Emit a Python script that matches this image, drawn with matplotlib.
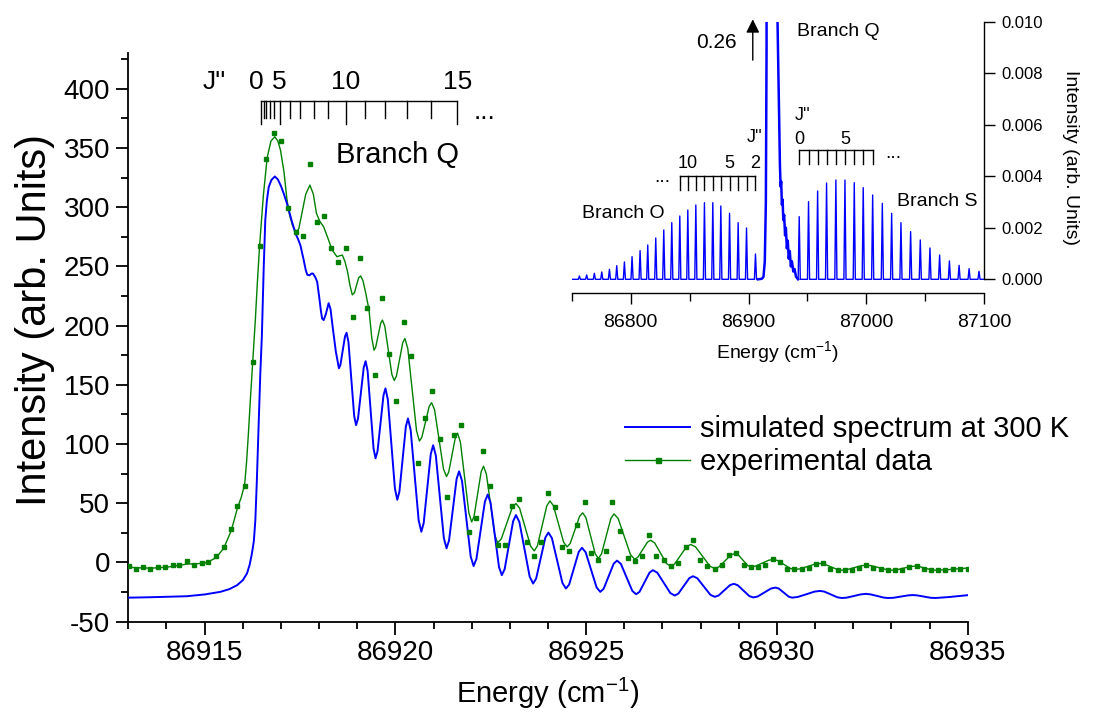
import numpy as np
import matplotlib
matplotlib.use('Agg')
import matplotlib.pyplot as plt
from matplotlib.lines import Line2D
from matplotlib.ticker import MultipleLocator, FormatStrFormatter
import matplotlib.transforms as mtransforms

plt.rcParams['font.family'] = ['Liberation Sans', 'DejaVu Sans']
plt.rcParams['axes.unicode_minus'] = False
plt.rcParams['mathtext.fontset'] = 'custom'
plt.rcParams['mathtext.rm'] = 'Liberation Sans'
plt.rcParams['mathtext.it'] = 'Liberation Sans'
plt.rcParams['mathtext.default'] = 'regular'

# ---------------- main panel data ----------------
sim_x = [86913.0, 86913.5, 86914.0, 86914.53, 86915.0, 86915.41, 86915.65, 86915.85, 86916.0, 86916.11,
         86916.18, 86916.24, 86916.29, 86916.33, 86916.37, 86916.42, 86916.46, 86916.50, 86916.55, 86916.59,
         86916.63, 86916.68, 86916.75, 86916.84, 86916.92, 86917.0, 86917.08, 86917.16, 86917.27, 86917.38,
         86917.45, 86917.51, 86917.56, 86917.6, 86917.65, 86917.69, 86917.75, 86917.80, 86917.84, 86917.9,
         86917.95, 86918.0, 86918.05, 86918.08, 86918.12, 86918.18, 86918.25, 86918.3, 86918.36, 86918.44,
         86918.52, 86918.56, 86918.62, 86918.68, 86918.72, 86918.77, 86918.845, 86918.92, 86918.97, 86919.02,
         86919.095, 86919.17, 86919.22, 86919.272, 86919.35, 86919.428, 86919.48, 86919.532, 86919.61, 86919.688,
         86919.74, 86919.802, 86919.895, 86919.988, 86920.05, 86920.106, 86920.19, 86920.274, 86920.33, 86920.40,
         86920.505, 86920.61, 86920.68, 86920.742, 86920.835, 86920.928, 86920.99, 86921.06, 86921.165, 86921.27,
         86921.34, 86921.406, 86921.505, 86921.604, 86921.67, 86921.746, 86921.86, 86921.974, 86922.05, 86922.124,
         86922.235, 86922.346, 86922.42, 86922.494, 86922.605, 86922.716, 86922.79, 86922.864, 86922.975, 86923.086,
         86923.16, 86923.25, 86923.385, 86923.52, 86923.61, 86923.69, 86923.81, 86923.93, 86924.01, 86924.102,
         86924.24, 86924.378, 86924.47, 86924.554, 86924.68, 86924.806, 86924.89, 86924.986, 86925.13, 86925.274,
         86925.37, 86925.458, 86925.59, 86925.722, 86925.81, 86925.91, 86926.06, 86926.21, 86926.31, 86926.398,
         86926.53, 86926.662, 86926.75, 86926.864, 86927.035, 86927.206, 86927.32, 86927.416, 86927.56, 86927.704,
         86927.80, 86927.914, 86928.085, 86928.256, 86928.37, 86928.47, 86928.62, 86928.77, 86928.87, 86928.972,
         86929.125, 86929.278, 86929.38, 86929.496, 86929.67, 86929.844, 86929.96, 86930.048, 86930.18, 86930.312,
         86930.4, 86930.546, 86930.765, 86930.984, 86931.13, 86931.244, 86931.415, 86931.586, 86931.7, 86931.826,
         86932.015, 86932.204, 86932.33, 86932.45, 86932.63, 86932.81, 86932.93, 86933.056, 86933.245, 86933.434,
         86933.56, 86933.678, 86933.855, 86934.032, 86934.15, 86934.5, 86935.0]
sim_y = [-29.7, -29.4, -29.0, -28.5, -27.0, -24.8, -22.5, -19.2, -15.0, -9.3,
         -2.0, 7.6, 18.0, 35.7, 70.0, 120.0, 160.0, 190.6, 250.0, 289.0,
         305.0, 317.0, 323.0, 326.0, 323.5, 318.0, 311.0, 303.0, 290.0, 278.0,
         273.0, 268.0, 261.0, 255.0, 247.0, 243.0, 242.5, 244.0, 244.0, 241.0,
         237.0, 225.0, 212.0, 206.0, 204.7, 210.0, 219.0, 214.0, 198.0, 178.0,
         164.0, 167.0, 179.0, 191.0, 194.0, 186.2, 155.0, 123.8, 116.0, 121.4,
         143.0, 164.6, 170.0, 161.8, 129.0, 96.2, 88.0, 93.9, 117.5, 141.1,
         147.0, 137.6, 100.0, 62.4, 53.0, 59.9, 87.3, 114.7, 121.6, 112.0,
         73.8, 35.6, 26.0, 33.3, 62.5, 91.7, 99.0, 90.3, 55.5, 20.7,
         12.0, 18.5, 44.5, 70.5, 77.0, 69.0, 37.0, 5.0, -3.0, 3.0,
         27.2, 51.4, 57.4, 50.6, 23.4, -3.9, -10.7, -5.6, 14.7, 34.9,
         40.0, 34.2, 11.1, -12.0, -17.8, -13.5, 3.8, 21.0, 25.3, 20.6,
         1.7, -17.3, -22.0, -18.6, -4.8, 9.0, 12.4, 8.7, -6.2, -21.1,
         -24.8, -22.2, -11.6, -1.0, 1.6, -1.2, -12.6, -24.0, -26.8, -24.8,
         -16.7, -8.5, -6.5, -8.6, -17.2, -25.8, -27.9, -26.3, -19.8, -13.2,
         -11.6, -13.3, -20.3, -27.3, -29.0, -27.9, -23.5, -19.1, -18.0, -19.2,
         -23.8, -28.4, -29.5, -28.7, -25.4, -22.0, -21.2, -22.0, -25.5, -28.9,
         -29.7, -29.1, -26.9, -24.6, -24.0, -24.6, -27.0, -29.4, -30.0, -29.7,
         -28.3, -26.9, -26.5, -26.9, -28.3, -29.7, -30.0, -29.8, -28.8, -27.8,
         -27.5, -27.8, -28.8, -29.8, -30.0, -29.2, -27.6]

exp_line_x = [86913.0, 86913.3, 86913.6, 86914.0, 86914.3, 86914.55, 86914.8, 86915.0, 86915.15, 86915.3,
              86915.5, 86915.7, 86915.86, 86915.96, 86916.05, 86916.1, 86916.15, 86916.2, 86916.26, 86916.33,
              86916.38, 86916.44, 86916.54, 86916.64, 86916.74, 86916.84, 86916.92, 86916.99, 86917.08, 86917.16,
              86917.23, 86917.3, 86917.36, 86917.41, 86917.47, 86917.55, 86917.65, 86917.76, 86917.85, 86917.93,
              86918.02, 86918.12, 86918.23, 86918.34, 86918.47, 86918.54, 86918.61, 86918.68, 86918.75, 86918.81,
              86918.87, 86918.93, 86918.98, 86919.04, 86919.09, 86919.15, 86919.22, 86919.31, 86919.38, 86919.44,
              86919.484, 86919.55, 86919.616, 86919.66, 86919.722, 86919.815, 86919.908, 86919.97, 86920.026, 86920.11,
              86920.194, 86920.25, 86920.326, 86920.44, 86920.554, 86920.63, 86920.694, 86920.79, 86920.886, 86920.95,
              86921.028, 86921.145, 86921.262, 86921.34, 86921.398, 86921.485, 86921.572, 86921.63, 86921.704, 86921.815,
              86921.926, 86922.0, 86922.062, 86922.155, 86922.248, 86922.31, 86922.384, 86922.495, 86922.606, 86922.68,
              86922.776, 86922.92, 86923.064, 86923.16, 86923.256, 86923.40, 86923.544, 86923.64, 86923.722, 86923.845,
              86923.968, 86924.05, 86924.14, 86924.275, 86924.41, 86924.50, 86924.582, 86924.705, 86924.828, 86924.91,
              86924.992, 86925.115, 86925.238, 86925.32, 86925.402, 86925.525, 86925.648, 86925.73, 86925.838, 86926.0,
              86926.162, 86926.27, 86926.354, 86926.48, 86926.606, 86926.69, 86926.794, 86926.95, 86927.106, 86927.21,
              86927.316, 86927.475, 86927.634, 86927.74, 86927.866, 86928.055, 86928.244, 86928.37, 86928.476, 86928.635,
              86928.794, 86928.90, 86928.984, 86929.11, 86929.236, 86929.32, 86929.436, 86929.61, 86929.784, 86929.90,
              86930.014, 86930.185, 86930.356, 86930.47, 86930.602, 86930.80, 86930.998, 86931.13, 86931.244, 86931.415,
              86931.586, 86931.70, 86931.828, 86932.02, 86932.212, 86932.34, 86932.476, 86932.68, 86932.884, 86933.02,
              86933.14, 86933.32, 86933.50, 86933.62, 86933.726, 86933.885, 86934.044, 86934.15, 86934.5, 86934.8,
              86935.03]
exp_line_y = [-4.0, -4.5, -4.8, -4.0, -2.5, -1.3, -1.0, -0.5, 1.5, 4.0,
              12.0, 27.0, 46.0, 55.0, 66.0, 85.0, 110.0, 138.0, 169.0, 205.0,
              235.0, 267.0, 310.0, 342.0, 356.0, 359.5, 356.0, 348.0, 330.0, 306.0,
              293.0, 285.0, 281.0, 279.3, 282.0, 295.0, 311.0, 318.7, 311.0, 295.0,
              288.0, 283.5, 274.0, 264.0, 258.2, 259.0, 259.6, 254.0, 245.0, 234.0,
              226.0, 228.0, 234.0, 240.5, 242.0, 238.0, 228.0, 213.0, 190.0, 179.3,
              181.8, 192.0, 202.2, 204.7, 199.6, 179.2, 158.8, 153.7, 157.3, 171.5,
              185.7, 189.2, 180.5, 145.9, 111.3, 102.6, 105.8, 118.8, 131.8, 135.0,
              128.8, 103.8, 78.8, 72.6, 76.3, 90.9, 105.5, 109.2, 101.7, 71.8,
              41.8, 34.3, 39.0, 57.8, 76.6, 81.3, 74.8, 49.0, 23.1, 16.6,
              19.9, 33.2, 46.5, 49.8, 45.8, 29.8, 13.8, 9.8, 14.0, 30.9,
              47.8, 52.0, 48.1, 32.6, 17.1, 13.2, 16.1, 27.6, 39.0, 41.9,
              38.0, 22.7, 7.3, 3.4, 7.2, 22.2, 37.2, 41.0, 37.2, 21.9,
              6.6, 2.8, 4.4, 10.8, 17.2, 18.8, 16.6, 7.9, -0.9, -3.1,
              -1.3, 6.1, 13.4, 15.2, 13.2, 5.1, -3.1, -5.1, -3.8, 1.3,
              6.3, 7.6, 6.5, 2.0, -2.6, -3.7, -3.1, -0.6, 1.9, 2.5,
              1.7, -1.7, -5.1, -5.9, -5.4, -3.4, -1.3, -0.8, -1.4, -3.7,
              -5.9, -6.5, -6.1, -4.4, -2.7, -2.3, -2.7, -4.4, -6.1, -6.5,
              -6.2, -4.8, -3.4, -3.1, -3.4, -4.8, -6.2, -6.5, -6.0, -5.2,
              -4.6]

exp_pts_x = [86913.03, 86913.21, 86913.39, 86913.58, 86913.79, 86913.97, 86914.16, 86914.34, 86914.53,
             86914.73, 86914.92, 86915.10, 86915.30, 86915.50, 86915.68, 86915.86, 86916.05, 86916.26,
             86916.44, 86916.62, 86916.81, 86916.99, 86917.18, 86917.40, 86917.57, 86917.76, 86917.94,
             86918.12, 86918.31, 86918.49, 86918.70, 86918.89, 86919.07, 86919.25, 86919.46, 86919.65,
             86919.83, 86920.02, 86920.23, 86920.41, 86920.59, 86920.78, 86920.96, 86921.17, 86921.36,
             86921.54, 86921.72, 86921.93, 86922.12, 86922.30, 86922.49, 86922.70, 86922.88, 86923.06,
             86923.25, 86923.46, 86923.64, 86923.82, 86924.01, 86924.19, 86924.38, 86924.56, 86924.77,
             86924.96, 86925.14, 86925.32, 86925.51, 86925.69, 86925.88, 86926.09, 86926.27, 86926.46,
             86926.66, 86926.84, 86927.03, 86927.22, 86927.42, 86927.61, 86927.79, 86927.98, 86928.17,
             86928.37, 86928.55, 86928.74, 86928.92, 86929.13, 86929.32, 86929.51, 86929.70, 86929.89,
             86930.08, 86930.27, 86930.46, 86930.65, 86930.84, 86931.02, 86931.22, 86931.40, 86931.59,
             86931.78, 86931.96, 86932.15, 86932.34, 86932.53, 86932.72, 86932.90, 86933.09, 86933.28,
             86933.47, 86933.66, 86933.85, 86934.04, 86934.22, 86934.41, 86934.62, 86934.81, 86935.01]
exp_pts_y = [-3.1, -5.1, -4.2, -5.1, -4.2, -4.2, -2.5, -1.7, 1.1,
             -1.7, -0.8, 0.0, 5.3, 12.9, 27.9, 47.6, 64.5, 169,
             267, 341, 363, 356, 299, 279, 275.6, 336.5, 287.5,
             292.5, 265.5, 253.4, 265.5, 207, 257, 214.6, 158.2, 223,
             175.7, 136.2, 202.7, 174.3, 83.6, 121.6, 144.7, 104, 54.9,
             108, 115.7, 25.6, 37.2, 93.8, 65, 14.4, 14.4, 47.3,
             54, 16.9, 5.1, 17.7, 58.3, 46.5, 13.5, 9.3, 31.3,
             51.5, 7.6, 2.5, 9.3, 51.5, 26.2, 3.6, 1.1, 5.9,
             23.1, 5.9, 1.9, -3.1, -0.6, 13.2, 18.8, 1.9, -3.1,
             -5.1, -2.3, 6.2, 8.1, -2.3, -4.2, -4.2, -2.3, 2.8,
             0.5, -5.1, -5.7, -5.7, -4.6, -1.4, -0.8, -5.7, -6.5,
             -6.5, -6.5, -4.6, -2.3, -4.6, -5.7, -6.5, -6.5, -6.5,
             -3.7, -3.1, -5.7, -6.5, -6.5, -6.5, -5.7, -5.1, -5.1]

# Q-branch rotational line positions (J'' = 0..15) marked on top ruler
q_J = list(range(16))
q_J_pos = [86916.487, 86916.552, 86916.618, 86916.705, 86916.81, 86916.967, 86917.23, 86917.511,
           86917.861, 86918.229, 86918.694, 86919.193, 86919.726, 86920.315, 86920.945, 86921.628]
q_J_labels = {0: '0', 5: '5', 10: '10', 15: '15'}

# ---------------- inset data ----------------
o_pos = [86756.5, 86762.7, 86769.2, 86775.5, 86782.0, 86788.2, 86794.7, 86801.2, 86808.0, 86814.5,
         86821.3, 86828.1, 86834.9, 86841.7, 86848.5, 86855.3, 86862.6, 86869.7, 86876.5, 86883.9,
         86891.2, 86898.3, 86905.9]
o_int = [0.000129, 0.000168, 0.000233, 0.000285, 0.000388, 0.000530, 0.000673, 0.000880, 0.001113,
         0.001332, 0.001604, 0.001915, 0.002199, 0.002458, 0.002691, 0.002885, 0.002975, 0.002975,
         0.002846, 0.002561, 0.002199, 0.001992, 0.000980]
o_J = [24, 23, 22, 21, 20, 19, 18, 17, 16, 15, 14, 13, 12, 11, 10, 9, 8, 7, 6, 5, 4, 3, 2]

s_pos = [86943.0, 86950.9, 86958.6, 86966.2, 86974.1, 86981.8, 86989.7, 86997.3, 87005.3, 87013.5,
         87021.4, 87029.3, 87037.5, 87045.7, 87053.9, 87062.1, 87070.4, 87078.6, 87087.1, 87095.5]
s_int = [0.002432, 0.003014, 0.003428, 0.003739, 0.003855, 0.003855, 0.003752, 0.003558, 0.003273,
         0.002950, 0.002561, 0.002199, 0.001850, 0.001527, 0.001216, 0.000944, 0.000712, 0.000543,
         0.000414, 0.000310]
s_J = list(range(20))

qb_x = [86908.0, 86911.3, 86912.7, 86913.8, 86914.7, 86915.3, 86916.8, 86923.5, 86924.6, 86925.4,
        86926.0, 86926.6, 86927.2, 86927.7, 86928.3, 86928.9, 86929.5, 86930.2, 86931.0, 86931.7,
        86932.5, 86933.3, 86934.1, 86935.0, 86935.9, 86936.8, 86938.0, 86939.0, 86940.3, 86942.0]
qb_y = [0.0, 0.00002, 0.0001, 0.0007, 0.0030, 0.0090, 0.26, 0.0140, 0.0100, 0.0078,
        0.0062, 0.0045, 0.0036, 0.0038, 0.0029, 0.0031, 0.0023, 0.0025, 0.0017, 0.0020,
        0.0012, 0.0015, 0.0008, 0.0011, 0.0005, 0.0007, 0.0003, 0.0004, 0.0001, 0.0]

# ---------------- figure ----------------
W, H = 1102, 713
fig = plt.figure(figsize=(W / 100, H / 100), dpi=100)


def fx(px):
    return px / W


def fy(py):
    return 1 - py / H


BLUE = '#0000ff'
GREEN = '#008000'

ax = fig.add_axes([fx(128.3), fy(621.7), fx(967.7) - fx(128.3), fy(53.3) - fy(621.7)])
ax.plot(sim_x, sim_y, color=BLUE, lw=1.4, zorder=3)
ax.plot(exp_line_x, exp_line_y, color=GREEN, lw=1.0, zorder=2)
ax.plot(exp_pts_x, exp_pts_y, ls='none', marker='s', ms=3.4, color=GREEN, mec=GREEN, zorder=4)
ax.set_xlim(86913, 86935)
ax.set_ylim(-50, 430)
ax.xaxis.set_major_locator(MultipleLocator(5))
ax.xaxis.set_minor_locator(MultipleLocator(1))
ax.yaxis.set_minor_locator(MultipleLocator(25))
ax.xaxis.set_major_formatter(FormatStrFormatter('%d'))
ax.set_yticks([-50, 0, 50, 100, 150, 200, 250, 300, 350, 400])
for s in ['top', 'right']:
    ax.spines[s].set_visible(False)
for s in ['left', 'bottom']:
    ax.spines[s].set_linewidth(1.3)
ax.tick_params(which='major', direction='out', length=9, width=1.3, labelsize=20, pad=4)
ax.tick_params(which='minor', direction='out', length=5, width=1.3)
ax.set_xlabel('Energy (cm$^{-1}$)', fontsize=21, labelpad=7)
fig.text(fx(35), fy(320), 'Intensity (arb. Units)', fontsize=30, rotation=90,
         ha='center', va='center')

# legend
handles = [Line2D([], [], color=BLUE, lw=1.4),
           Line2D([], [], color=GREEN, lw=1.0, marker='s', ms=3.6)]
leg = fig.legend(handles, ['simulated spectrum at 300 K', 'experimental data'],
                 loc='upper left', bbox_to_anchor=(fx(625), fy(415)), frameon=False,
                 fontsize=21, handlelength=2.23, handletextpad=0.35, labelspacing=0.18,
                 borderpad=0, borderaxespad=0)

# J'' ruler for Q branch
trans = mtransforms.blended_transform_factory(ax.transData, fig.transFigure)
ax.plot([q_J_pos[0], q_J_pos[-1]], [fy(101), fy(101)], color='black', lw=1.0,
        transform=trans, clip_on=False)
for J, p in zip(q_J, q_J_pos):
    yb = 124 if J in q_J_labels else 118
    ax.plot([p, p], [fy(101), fy(yb)], color='black', lw=1.0, transform=trans, clip_on=False)
for J, lab in q_J_labels.items():
    xoff = -0.12 if J == 0 else 0.0
    ax.text(q_J_pos[J] + xoff, fy(82), lab, transform=trans, ha='center', va='center', fontsize=19)
fig.text(fx(214), fy(82), "J''", ha='center', va='center', fontsize=19)
fig.text(fx(484), fy(112), '...', ha='center', va='center', fontsize=19)
fig.text(fx(398), fy(155), 'Branch Q', ha='center', va='center', fontsize=21)

# ---------------- inset ----------------
ax2 = fig.add_axes([fx(571.7), fy(292.7), fx(984.3) - fx(571.7), fy(21.7) - fy(292.7)])
ax2.patch.set_alpha(0)
half = 0.9
ox = [86750.0]
oy = [0.0]
for p, h in zip(o_pos, o_int):
    ox += [p - half, p, p + half]
    oy += [0.0, h, 0.0]
ox += [qb_x[0]]
oy += [0.0]
sx = [qb_x[-1]]
sy = [0.0]
for p, h in zip(s_pos, s_int):
    sx += [p - half, p, p + half]
    sy += [0.0, h, 0.0]
sx += [87100.0]
sy += [0.0]
ax2.plot(ox, oy, color=BLUE, lw=1.0)
ax2.plot(sx, sy, color=BLUE, lw=1.0)
ax2.plot(qb_x, qb_y, color=BLUE, lw=1.8)
ax2.set_xlim(86750, 87100)
ax2.set_ylim(-0.00052, 0.010)
ax2.xaxis.set_major_locator(MultipleLocator(100))
ax2.xaxis.set_minor_locator(MultipleLocator(50))
ax2.xaxis.set_major_formatter(FormatStrFormatter('%d'))
ax2.set_yticks([0.000, 0.002, 0.004, 0.006, 0.008, 0.010])
ax2.yaxis.set_major_formatter(FormatStrFormatter('%.3f'))
ax2.yaxis.tick_right()
ax2.yaxis.set_label_position('right')
for s in ['top', 'left']:
    ax2.spines[s].set_visible(False)
ax2.spines['right'].set_bounds(0, 0.010)
for s in ['right', 'bottom']:
    ax2.spines[s].set_linewidth(1.0)
ax2.tick_params(axis='y', which='major', direction='out', length=8, width=1.0, labelsize=12, pad=4)
ax2.tick_params(axis='x', which='major', direction='out', length=8, width=1.0, labelsize=14, pad=7)
ax2.tick_params(axis='x', which='minor', direction='out', length=6, width=1.0)
ax2.set_xlabel('Energy (cm$^{-1}$)', fontsize=14, labelpad=6)
ax2.set_ylabel('Intensity (arb. Units)', fontsize=14, rotation=270, labelpad=26)

# O-branch ruler
t2 = mtransforms.blended_transform_factory(ax2.transData, fig.transFigure)
o_marks = [(J, p) for J, p in zip(o_J, o_pos) if 2 <= J <= 11]
ax2.plot([o_marks[0][1], o_marks[-1][1]], [fy(176), fy(176)], color='black', lw=1.0,
         transform=t2, clip_on=False)
for J, p in o_marks:
    ax2.plot([p, p], [fy(176), fy(189.5)], color='black', lw=1.0, transform=t2, clip_on=False)
    if J in (10, 5, 2):
        ax2.text(p, fy(164), str(J), transform=t2, ha='center', va='center', fontsize=13)
fig.text(fx(662), fy(178), '...', ha='center', va='center', fontsize=14)
fig.text(fx(582), fy(213), 'Branch O', ha='left', va='center', fontsize=14)

# S-branch ruler
s_marks = [(J, p) for J, p in zip(s_J, s_pos) if J <= 8]
ax2.plot([s_marks[0][1], s_marks[-1][1]], [fy(150), fy(150)], color='black', lw=1.0,
         transform=t2, clip_on=False)
for J, p in s_marks:
    ax2.plot([p, p], [fy(150), fy(163.5)], color='black', lw=1.0, transform=t2, clip_on=False)
    if J in (0, 5):
        ax2.text(p, fy(139), str(J), transform=t2, ha='center', va='center', fontsize=13)
fig.text(fx(893), fy(153), '...', ha='center', va='center', fontsize=14)
fig.text(fx(897), fy(201.5), 'Branch S', ha='left', va='center', fontsize=14)
fig.text(fx(755), fy(138), "J''", ha='center', va='center', fontsize=13)
fig.text(fx(803), fy(115), "J''", ha='center', va='center', fontsize=13)

# off-scale peak marker
ax2.annotate('', xy=(86903.6, 0.0102), xytext=(86903.6, 0.0084),
             arrowprops=dict(arrowstyle='-|>', color='black', lw=1.0, mutation_scale=20),
             annotation_clip=False)
fig.text(fx(737), fy(42), '0.26', ha='right', va='center', fontsize=15)
fig.text(fx(797), fy(32), 'Branch Q', ha='left', va='center', fontsize=14)

fig.savefig('out.png', dpi=100)
